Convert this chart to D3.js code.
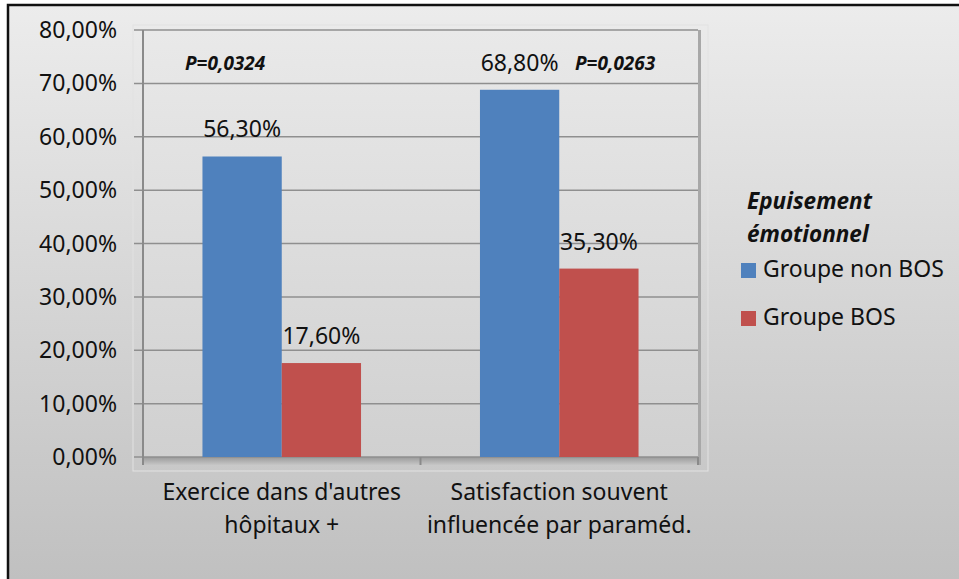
<!DOCTYPE html>
<html>
<head>
<meta charset="utf-8">
<script src="https://cdn.jsdelivr.net/npm/d3@7"></script>
<style>
  body { margin: 0; background: #fff; }
  svg { display: block; font-family: "Noto Sans", "Open Sans", sans-serif; }
</style>
</head>
<body>
<div id="chart"></div>
<script>
const categories = [["Exercice dans d'autres", "hôpitaux +"], ["Satisfaction souvent", "influencée par paraméd."]];
const series = ["Groupe non BOS", "Groupe BOS"];
const nonBos = [0.563, 0.688];
const bos = [0.176, 0.353];
const pValues = ["P=0,0324", "P=0,0263"];
const yTicks = [0, 0.1, 0.2, 0.3, 0.4, 0.5, 0.6, 0.7, 0.8];
const legendTitle = ["Epuisement", "émotionnel"];
const colors = ["#4f81bd", "#c0504d"];

const W = 959, H = 579;
const svg = d3.select("#chart").append("svg").attr("width", W).attr("height", H);
const defs = svg.append("defs");

const bgGrad = defs.append("linearGradient").attr("id", "bg").attr("x1", 0).attr("y1", 0).attr("x2", 0).attr("y2", 1);
bgGrad.append("stop").attr("offset", 0).attr("stop-color", "#ececec");
bgGrad.append("stop").attr("offset", 1).attr("stop-color", "#c0c0c0");

const wallGrad = defs.append("linearGradient").attr("id", "wall").attr("x1", 0).attr("y1", 0).attr("x2", 0).attr("y2", 1);
wallGrad.append("stop").attr("offset", 0).attr("stop-color", "#e9e9e9");
wallGrad.append("stop").attr("offset", 1).attr("stop-color", "#d0d0d0");

const floorGrad = defs.append("linearGradient").attr("id", "floor").attr("x1", 0).attr("y1", 0).attr("x2", 0).attr("y2", 1);
floorGrad.append("stop").attr("offset", 0).attr("stop-color", "#9a9a9a");
floorGrad.append("stop").attr("offset", 1).attr("stop-color", "#c6c6c6");

// chart area
svg.append("rect").attr("x", 8).attr("y", 5).attr("width", W - 8).attr("height", H - 5).attr("fill", "url(#bg)");
svg.append("path").attr("d", `M8,${H} V5 H${W}`).attr("fill", "none").attr("stroke", "#111").attr("stroke-width", 2.5);

const plotL = 143, plotR = 698, plotT = 30, plotB = 457;

const y = d3.scaleLinear().domain([0, 0.8]).range([plotB, plotT]);
const x0 = d3.scaleBand().domain(d3.range(categories.length)).range([plotL, plotR]);
const x1 = d3.scaleBand().domain(series).range([0, x0.bandwidth()]).paddingOuter(0.75);

// plot area border
svg.append("rect").attr("x", 133).attr("y", 25).attr("width", 575).attr("height", 446)
  .attr("fill", "none").attr("stroke", "#e2e2e2").attr("stroke-width", 1);

// wall + floor
svg.append("rect").attr("x", plotL).attr("y", plotT).attr("width", plotR - plotL).attr("height", plotB - plotT).attr("fill", "url(#wall)");
svg.append("rect").attr("x", plotL).attr("y", plotB).attr("width", plotR - plotL + 3).attr("height", 8).attr("fill", "url(#floor)");
svg.append("rect").attr("x", plotR).attr("y", plotT).attr("width", 3).attr("height", plotB - plotT + 8).attr("fill", "#a8a8a8");

// gridlines
svg.append("g").selectAll("line").data(yTicks).join("line")
  .attr("x1", plotL - 9).attr("x2", plotR)
  .attr("y1", d => y(d)).attr("y2", d => y(d))
  .attr("stroke", "#8f8f8f").attr("stroke-width", 1.5);

// y axis line
svg.append("line").attr("x1", plotL).attr("x2", plotL).attr("y1", plotT).attr("y2", plotB + 8)
  .attr("stroke", "#8a8a8a").attr("stroke-width", 2);

// x ticks
svg.append("g").selectAll("line").data(d3.range(categories.length + 1)).join("line")
  .attr("x1", i => plotL + i * x0.bandwidth()).attr("x2", i => plotL + i * x0.bandwidth())
  .attr("y1", plotB).attr("y2", plotB + 8)
  .attr("stroke", "#8a8a8a").attr("stroke-width", 2);

// y tick labels
const fmt = d => (d * 100).toFixed(2).replace(".", ",") + "%";
svg.append("g").selectAll("text").data(yTicks).join("text")
  .attr("x", 117).attr("y", d => y(d) + 8)
  .attr("text-anchor", "end").attr("font-size", 23).attr("fill", "#111")
  .text(fmt);

// bars
const data = series.map((s, si) => ({ s, values: si === 0 ? nonBos : bos, color: colors[si] }));
data.forEach(ser => {
  const g = svg.append("g");
  g.selectAll("rect").data(ser.values).join("rect")
    .attr("x", (v, i) => x0(i) + x1(ser.s))
    .attr("y", v => y(v))
    .attr("width", x1.bandwidth())
    .attr("height", v => plotB - y(v))
    .attr("fill", ser.color);
  g.selectAll("text").data(ser.values).join("text")
    .attr("x", (v, i) => x0(i) + x1(ser.s) + x1.bandwidth() / 2)
    .attr("y", v => y(v) - 19)
    .attr("text-anchor", "middle").attr("font-size", 23).attr("fill", "#111")
    .text(fmt);
});

// p-values
svg.append("g").selectAll("text").data(pValues).join("text")
  .attr("x", (p, i) => i === 0 ? 185 : 575).attr("y", 70)
  .attr("font-size", 19).attr("font-weight", "bold").attr("font-style", "italic").attr("fill", "#111")
  .text(p => p);

// category labels
const catG = svg.append("g").selectAll("text").data(categories).join("text")
  .attr("x", (c, i) => x0(i) + x0.bandwidth() / 2)
  .attr("text-anchor", "middle").attr("font-size", 23).attr("fill", "#111");
catG.selectAll("tspan").data(c => c).join("tspan")
  .attr("x", function () { return this.parentNode.getAttribute("x"); })
  .attr("y", (l, j) => 500 + j * 33)
  .text(l => l);

// legend
svg.append("g").selectAll("text").data(legendTitle).join("text")
  .attr("x", 747).attr("y", (t, i) => 209 + i * 33)
  .attr("font-size", 22.5).attr("font-weight", "bold").attr("font-style", "italic").attr("fill", "#111")
  .text(t => t);
const leg = svg.append("g").selectAll("g").data(series).join("g")
  .attr("transform", (s, i) => `translate(741,${263 + i * 48})`);
leg.append("rect").attr("width", 15).attr("height", 15).attr("fill", (s, i) => colors[i]);
leg.append("text").attr("x", 22).attr("y", 14).attr("font-size", 23).attr("fill", "#111").text(s => s);
</script>
</body>
</html>
